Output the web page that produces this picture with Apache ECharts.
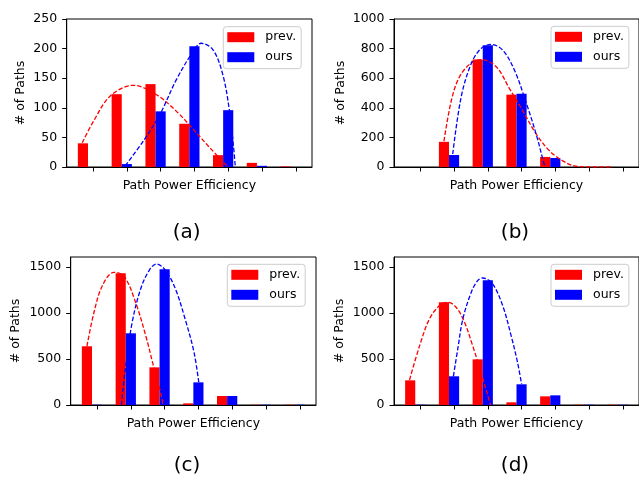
<!DOCTYPE html>
<html>
<head>
<meta charset="utf-8">
<script src="https://cdn.jsdelivr.net/npm/echarts@6/dist/echarts.min.js"></script>
<style>
  html, body { margin: 0; padding: 0; background: #fff; }
  #chart { width: 639px; height: 479px; }
</style>
</head>
<body>
<div id="chart"></div>
<script>
// bar groups (x positions of the ticks)
const groups = [0, 1, 2, 3, 4, 5, 6];

// histogram counts
const prevA = [40, 123, 140, 73, 20, 7, 1];
const oursA = [0, 5, 94, 204, 96, 2, 0];
const prevB = [0, 170, 726, 489, 68, 0, 0];
const oursB = [0, 81, 823, 495, 61, 0, 0];
const prevC = [638, 1431, 409, 18, 98, 3, 3];
const oursC = [3, 779, 1475, 246, 98, 3, 3];
const prevD = [268, 1116, 496, 29, 94, 3, 3];
const oursD = [3, 312, 1355, 225, 105, 3, 3];

// dashed fit curves, [x, count]
const fitPrevA = [[-0.32, 41], [0.02, 78], [0.51, 120], [1.19, 138], [1.88, 122], [2.47, 94], [2.96, 64], [3.45, 33], [3.99, 0]];
const fitOursA = [[0.95, 2], [1.49, 44], [1.98, 89], [2.47, 148], [2.96, 195], [3.2, 209], [3.55, 198], [3.84, 156], [4.04, 94], [4.16, 33], [4.21, 0]];
const fitPrevB = [[0.7, 174], [0.92, 450], [1.16, 609], [1.51, 704], [1.8, 726], [2.25, 677], [2.64, 530], [3.03, 382], [3.43, 224], [3.82, 111], [4.21, 43], [4.61, 5], [5.1, 0], [5.7, 0]];
const fitOursB = [[0.96, 88], [1.21, 473], [1.51, 699], [1.8, 801], [2.1, 828], [2.44, 790], [2.79, 654], [3.13, 439], [3.43, 224], [3.64, 43], [3.69, 0]];
const fitPrevC = [[-0.3, 638], [-0.09, 1008], [0.16, 1298], [0.5, 1442], [0.8, 1399], [1.14, 1116], [1.44, 754], [1.68, 410], [1.88, 138], [1.95, 0]];
const fitOursC = [[0.72, 0], [0.85, 428], [1.04, 899], [1.29, 1261], [1.54, 1461], [1.76, 1533], [2.03, 1461], [2.32, 1261], [2.62, 917], [2.87, 573], [3.01, 247]];
const fitPrevD = [[-0.32, 272], [-0.02, 645], [0.27, 935], [0.57, 1080], [0.82, 1116], [1.06, 1062], [1.31, 899], [1.55, 645], [1.8, 355], [2.0, 102], [2.08, 0]];
const fitOursD = [[0.98, 312], [1.11, 609], [1.26, 935], [1.51, 1225], [1.7, 1352], [1.85, 1380], [2.14, 1315], [2.44, 1080], [2.69, 754], [2.88, 464], [3.0, 228]];

// y ticks per panel
const yTicksA = [0, 50, 100, 150, 200, 250];
const yTicksB = [0, 200, 400, 600, 800, 1000];
const yTicksCD = [0, 500, 1000, 1500];

const captions = ["(a)", "(b)", "(c)", "(d)"];

const RED = "#ff0000";
const BLUE = "#0000ff";
const FONT = "DejaVu Sans";
const BAR_W = 0.3;

const panels = [
  { grid: { left: 66.7, top: 19, width: 245.3, height: 148 }, yMax: 250, yTicks: yTicksA, nameGap: 39,
    prev: prevA, ours: oursA, fitPrev: fitPrevA, fitOurs: fitOursA, legend: { left: 223.3, top: 26.7 }, cap: [186.7, 233] },
  { grid: { left: 394, top: 19, width: 246, height: 148 }, yMax: 1000, yTicks: yTicksB, nameGap: 46.5,
    prev: prevB, ours: oursB, fitPrev: fitPrevB, fitOurs: fitOursB, legend: { left: 551, top: 26.3 }, cap: [515, 233] },
  { grid: { left: 70.7, top: 257, width: 245.3, height: 148 }, yMax: 1608, yTicks: yTicksCD, nameGap: 48,
    prev: prevC, ours: oursC, fitPrev: fitPrevC, fitOurs: fitOursC, legend: { left: 227.3, top: 264.3 }, cap: [187, 466] },
  { grid: { left: 394, top: 257, width: 246, height: 148 }, yMax: 1608, yTicks: yTicksCD, nameGap: 48,
    prev: prevD, ours: oursD, fitPrev: fitPrevD, fitOurs: fitOursD, legend: { left: 551, top: 264.3 }, cap: [515, 466] }
];

function renderBar(params, api) {
  const x = api.value(0);
  const y = api.value(1);
  const p0 = api.coord([x - BAR_W / 2, y]);
  const p1 = api.coord([x + BAR_W / 2, 0]);
  return {
    type: "rect",
    shape: { x: p0[0], y: p0[1], width: p1[0] - p0[0], height: p1[1] - p0[1] },
    style: { fill: api.visual("color") }
  };
}

const grid = [], xAxis = [], yAxis = [], series = [], legend = [], graphic = [];

panels.forEach((p, i) => {
  grid.push(Object.assign({ show: true, borderColor: "#000", borderWidth: 1, backgroundColor: "transparent" }, p.grid));
  xAxis.push({
    type: "value", gridIndex: i, min: -0.78, max: 6.48,
    name: "Path Power Efficiency", nameLocation: "middle", nameGap: 12.5,
    nameTextStyle: { fontFamily: FONT, fontSize: 12.5, color: "#000" },
    axisLine: { onZero: false, lineStyle: { color: "#000", width: 1 } },
    axisTick: { show: true, length: 4.5, customValues: groups, lineStyle: { color: "#000" } },
    axisLabel: { show: false },
    splitLine: { show: false }
  });
  yAxis.push({
    type: "value", gridIndex: i, min: 0, max: p.yMax,
    name: "# of Paths", nameLocation: "middle", nameGap: p.nameGap, nameRotate: 90,
    nameTextStyle: { fontFamily: FONT, fontSize: 12.5, color: "#000" },
    axisLine: { show: true, onZero: false, lineStyle: { color: "#000", width: 1 } },
    axisTick: { show: true, length: 4.5, customValues: p.yTicks, lineStyle: { color: "#000" } },
    axisLabel: { customValues: p.yTicks, formatter: v => String(v), margin: 9.5, fontFamily: FONT, fontSize: 12.5, color: "#000" },
    splitLine: { show: false }
  });
  series.push({
    name: "prev.", type: "custom", xAxisIndex: i, yAxisIndex: i, clip: true,
    itemStyle: { color: RED }, renderItem: renderBar,
    data: groups.map((g, k) => [g - BAR_W, p.prev[k]])
  });
  series.push({
    name: "ours", type: "custom", xAxisIndex: i, yAxisIndex: i, clip: true,
    itemStyle: { color: BLUE }, renderItem: renderBar,
    data: groups.map((g, k) => [g, p.ours[k]])
  });
  series.push({
    name: "prev. fit", type: "line", xAxisIndex: i, yAxisIndex: i, clip: true,
    smooth: 0.35, showSymbol: false, symbol: "none", z: 3,
    lineStyle: { color: RED, width: 1.3, type: [4.5, 2] },
    data: p.fitPrev
  });
  series.push({
    name: "ours fit", type: "line", xAxisIndex: i, yAxisIndex: i, clip: true,
    smooth: 0.35, showSymbol: false, symbol: "none", z: 3,
    lineStyle: { color: BLUE, width: 1.3, type: [4.5, 2] },
    data: p.fitOurs
  });
  legend.push({
    left: p.legend.left, top: p.legend.top, orient: "vertical",
    data: [{ name: "prev.", icon: "rect" }, { name: "ours", icon: "rect" }],
    itemWidth: 27, itemHeight: 10, itemGap: 7,
    padding: [4, 5, 5, 4],
    backgroundColor: "rgba(255,255,255,0.8)", borderColor: "#cccccc", borderWidth: 1, borderRadius: 3,
    textStyle: { fontFamily: FONT, fontSize: 12.5, color: "#000", padding: [0, 0, 0, 6] },
    selectedMode: false, z: 10
  });
  graphic.push({
    type: "text", x: p.cap[0], y: p.cap[1],
    style: { text: captions[i], fontFamily: FONT, fontSize: 20, fill: "#000", align: "center", verticalAlign: "middle" }
  });
});

const chart = echarts.init(document.getElementById("chart"));
chart.setOption({
  animation: false,
  backgroundColor: "#fff",
  textStyle: { fontFamily: FONT },
  grid, xAxis, yAxis, series, legend, graphic
});
</script>
</body>
</html>
